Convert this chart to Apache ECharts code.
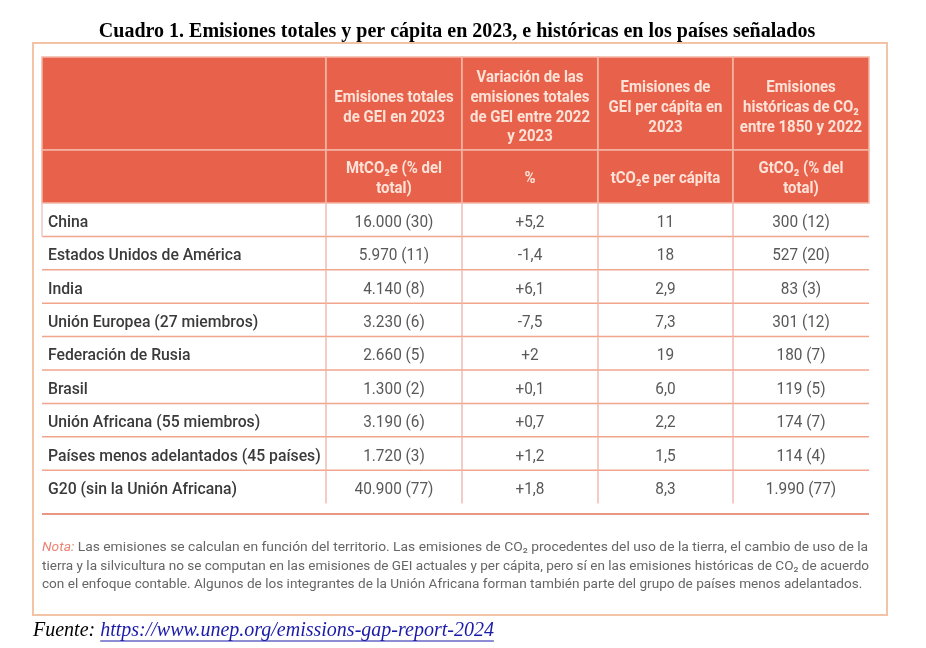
<!DOCTYPE html>
<html><head><meta charset="utf-8">
<script src="https://cdn.jsdelivr.net/npm/echarts@6/dist/echarts.min.js"></script>
<style>html,body{margin:0;padding:0;background:#fff}#c{width:926px;height:648px}</style>
</head><body><div id="c"></div>
<script>
// ---------- DATA ----------
const titleText = 'Cuadro 1. Emisiones totales y per cápita en 2023, e históricas en los países señalados';
const headerTop = ['', 'Emisiones totales\nde GEI en 2023', 'Variación de las\nemisiones totales\nde GEI entre 2022\ny 2023', 'Emisiones de\nGEI per cápita en\n2023', 'Emisiones\nhistóricas de CO₂\nentre 1850 y 2022'];
const headerUnits = ['', 'MtCO₂e (% del\ntotal)', '%', 'tCO₂e per cápita', 'GtCO₂ (% del\ntotal)'];
const countries = ['China', 'Estados Unidos de América', 'India', 'Unión Europea (27 miembros)', 'Federación de Rusia', 'Brasil', 'Unión Africana (55 miembros)', 'Países menos adelantados (45 países)', 'G20 (sin la Unión Africana)'];
const totalEmissions = [16000, 5970, 4140, 3230, 2660, 1300, 3190, 1720, 40900];
const totalShare = [30, 11, 8, 6, 5, 2, 6, 3, 77];
const change2022to2023 = [5.2, -1.4, 6.1, -7.5, 2, 0.1, 0.7, 1.2, 1.8];
const perCapita = [11, 18, 2.9, 7.3, 19, 6.0, 2.2, 1.5, 8.3];
const historical = [300, 527, 83, 301, 180, 119, 174, 114, 1990];
const historicalShare = [12, 20, 3, 12, 7, 5, 7, 4, 77];
const noteLines = [
  'Las emisiones se calculan en función del territorio. Las emisiones de CO₂ procedentes del uso de la tierra, el cambio de uso de la',
  'tierra y la silvicultura no se computan en las emisiones de GEI actuales y per cápita, pero sí en las emisiones históricas de CO₂ de acuerdo',
  'con el enfoque contable. Algunos de los integrantes de la Unión Africana forman también parte del grupo de países menos adelantados.'
];
const sourceLabel = 'Fuente: ';
const sourceUrl = 'https://www.unep.org/emissions-gap-report-2024';

// ---------- FORMAT ----------
function thousands(v){ return String(v).replace(/\B(?=(\d{3})+(?!\d))/g, '.'); }
function dec(v){ return String(v).replace('.', ','); }
const colText = [
  countries,
  totalEmissions.map((v,i)=> thousands(v) + ' (' + totalShare[i] + ')'),
  change2022to2023.map(v => (v>0?'+':'') + dec(v)),
  perCapita.map(v => v>=10 ? String(v) : v.toFixed(1).replace('.', ',')),
  historical.map((v,i)=> thousands(v) + ' (' + historicalShare[i] + ')')
];

// ---------- LAYOUT (axis units) ----------
const colEdges = [0, 284, 420, 556, 691, 827];
const headEdges = [0, 93, 146];
const rowH = 33.4;
const bodyTop = 146;
const tableBottom = 457;

const headerData = [], bodyData = [];
for (let r=0;r<2;r++) for (let c=0;c<5;c++) headerData.push([c, r]);
for (let r=0;r<countries.length;r++) for (let c=0;c<5;c++) bodyData.push([c, r]);

const chart = echarts.init(document.getElementById('c'));
const ctx = document.createElement('canvas').getContext('2d');
function tw(font, s){ ctx.font = font; return ctx.measureText(s).width; }

const srcFont = 'italic 20px "Liberation Serif"';
const srcLabelW = tw(srcFont, sourceLabel);
const srcUrlW = tw(srcFont, sourceUrl);

// note lines: stretch the first two to the full table width (justified in the reference)
const noteFont = '13.6px Roboto';
const noteX = 42, noteW = 827, noteY = [548, 566.5, 585];
const noteGraphics = noteLines.map((ln, i) => {
  const full = (i === 0 ? 'Nota: ' : '') + ln;
  const w = tw(noteFont, full);
  const sx = i < 2 ? noteW / w : 1;
  return { type: 'text', x: noteX, y: noteY[i], scaleX: sx, style: {
    text: (i === 0 ? '{n|Nota:} ' : '') + ln, fill: '#666', fontFamily: 'Roboto', fontSize: 13.6, verticalAlign: 'middle',
    rich: { n: { fill: '#ea8474', fontStyle: 'italic', fontFamily: 'Roboto', fontSize: 13.6 } } } };
});

chart.setOption({
  animation: false,
  grid: { left: 42, top: 57, width: 827, height: 457, show: false },
  xAxis: { type: 'value', min: 0, max: 827, show: false },
  yAxis: { type: 'value', min: 0, max: 457, inverse: true, show: false },
  graphic: [
    { type: 'rect', shape: { x: 33, y: 43, width: 854, height: 572 }, style: { fill: 'none', stroke: '#f3c3a6', lineWidth: 2 } },
    { type: 'text', x: 457, y: 31.5, style: { text: titleText, fill: '#000', fontFamily: '"Liberation Serif"', fontWeight: 'bold', fontSize: 20, align: 'center', verticalAlign: 'middle' } },
    ...noteGraphics,
    { type: 'text', x: 33, y: 631, style: { text: sourceLabel, fill: '#000', font: srcFont, verticalAlign: 'middle' } },
    { type: 'text', x: 33 + srcLabelW, y: 631, style: { text: sourceUrl, fill: '#1a1aa8', font: srcFont, verticalAlign: 'middle' } },
    { type: 'line', shape: { x1: 33 + srcLabelW, y1: 641, x2: 33 + srcLabelW + srcUrlW, y2: 641 }, style: { stroke: '#1a1aa8', lineWidth: 1 } }
  ],
  series: [
    {
      type: 'custom', name: 'header', coordinateSystem: 'cartesian2d', data: headerData, encode: { x: 0, y: 1 },
      renderItem: function (params, api) {
        const c = api.value(0), r = api.value(1);
        const p0 = api.coord([colEdges[c], headEdges[r]]);
        const p1 = api.coord([colEdges[c+1], headEdges[r+1]]);
        const txt = r === 0 ? headerTop[c] : headerUnits[c];
        return { type: 'group', children: [
          { type: 'rect', shape: { x: p0[0], y: p0[1], width: p1[0]-p0[0], height: p1[1]-p0[1] },
            style: { fill: '#e8624b', stroke: '#f4b6a6', lineWidth: 1.5 } },
          { type: 'text', x: (p0[0]+p1[0])/2, y: (p0[1]+p1[1])/2 + (r===0?4:2), scaleX: 0.88,
            style: { text: txt, fill: '#fde2d8', fontFamily: 'Roboto', fontWeight: 'bold', fontSize: 17, lineHeight: 19.8, align: 'center', verticalAlign: 'middle' } }
        ]};
      }
    },
    {
      type: 'custom', name: 'body', coordinateSystem: 'cartesian2d', data: bodyData, encode: { x: 0, y: 1 },
      renderItem: function (params, api) {
        const c = api.value(0), r = api.value(1);
        const p0 = api.coord([colEdges[c], bodyTop + r*rowH]);
        const p1 = api.coord([colEdges[c+1], bodyTop + (r+1)*rowH]);
        const last = r === countries.length - 1;
        const kids = [];
        if (c < 4) kids.push({ type: 'line', shape: { x1: p1[0], y1: p0[1], x2: p1[0], y2: p1[1] }, style: { stroke: '#f2bab4', lineWidth: 1.5 } });
        if (!last) kids.push({ type: 'line', shape: { x1: p0[0], y1: p1[1], x2: p1[0], y2: p1[1] }, style: { stroke: '#f0a58c', lineWidth: 1.5 } });
        if (c === 0 && r === 0) kids.push({ type: 'line', shape: { x1: p0[0], y1: p0[1], x2: p0[0], y2: p1[1] }, style: { stroke: '#f2c6c6', lineWidth: 1.5 } });
        if (c === 0) {
          kids.push({ type: 'text', x: p0[0] + 6, y: (p0[1]+p1[1])/2 + 3, scaleX: 0.985,
            style: { text: colText[c][r], fill: '#3a3a3a', fontFamily: 'Roboto', fontWeight: 500, fontSize: 16, align: 'left', verticalAlign: 'middle' } });
        } else {
          kids.push({ type: 'text', x: (p0[0]+p1[0])/2, y: (p0[1]+p1[1])/2 + 3, scaleX: 0.96,
            style: { text: colText[c][r], fill: '#585858', fontFamily: 'Roboto', fontSize: 16, align: 'center', verticalAlign: 'middle' } });
        }
        if (last && c === 0) {
          const a = api.coord([0, tableBottom]), b = api.coord([827, tableBottom]);
          kids.push({ type: 'line', shape: { x1: a[0], y1: a[1], x2: b[0], y2: b[1] }, style: { stroke: '#e2735c', lineWidth: 1.5 } });
        }
        return { type: 'group', children: kids };
      }
    }
  ]
});
</script></body></html>
